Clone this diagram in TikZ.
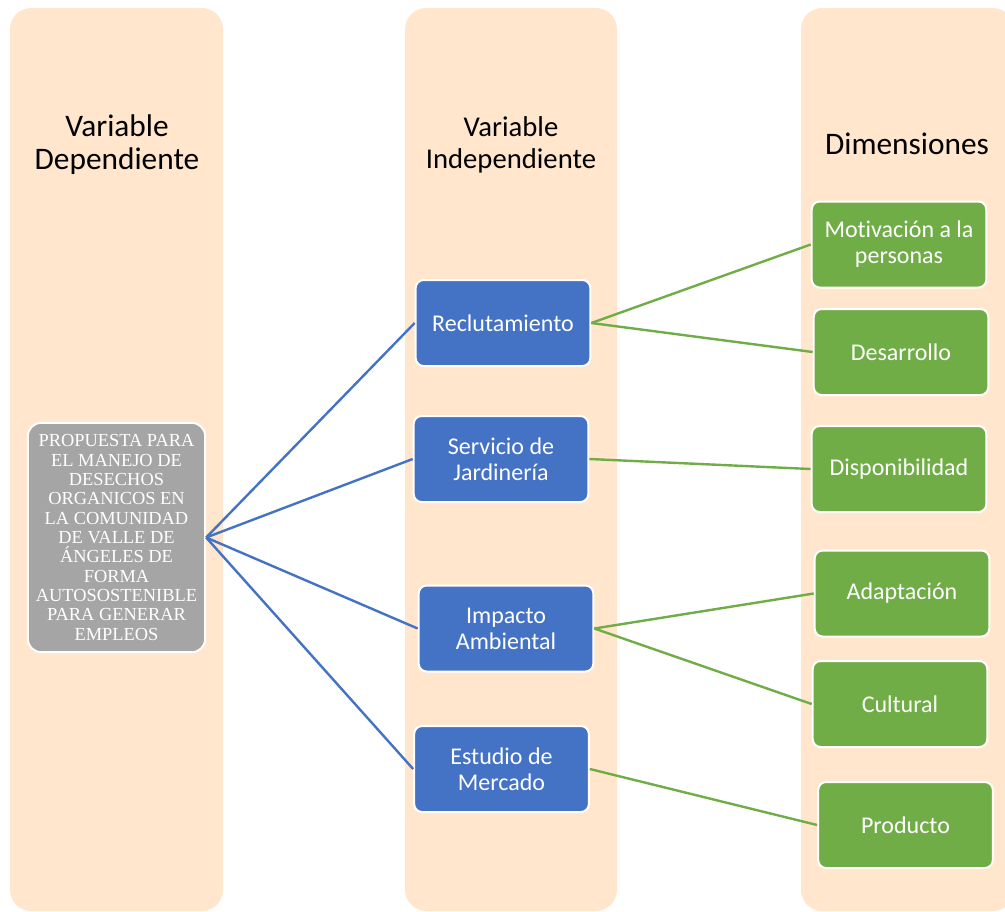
\documentclass[tikz,border=0pt]{standalone}
\usepackage{fontspec}
\setmainfont{Carlito}[Ligatures=NoCommon]
\newfontfamily\serifbox{Liberation Serif}
\usepackage{tikz}
\definecolor{colfondo}{HTML}{FFE6CC}
\definecolor{azul}{HTML}{4472C4}
\definecolor{verde}{HTML}{70AD47}
\definecolor{gris}{HTML}{A5A5A5}

\begin{document}
\begin{tikzpicture}[x=0.75pt, y=-0.75pt,
    columna/.style={fill=colfondo, rounded corners=16pt},
    caja/.style={draw=white, line width=1.5pt, rounded corners=6pt, text=white, align=center,
      minimum width=131pt, minimum height=64.5pt, inner sep=2pt, font=\fontsize{18}{19.5}\selectfont},
    indep/.style={caja, fill=azul},
    dimen/.style={caja, fill=verde},
    enlace/.style={line width=1.8pt}]
    \clip (0, 0) rectangle (1005, 911);
    \fill[white] (0, 0) rectangle (1005, 911);
    \fill[columna] (10, 8) rectangle (223, 911);
    \fill[columna] (405, 8) rectangle (617, 911);
    \fill[columna] (801, 8) rectangle (1014, 911);
    \node[align=center, font=\fontsize{23.5}{24.75}\selectfont] (tdep) at (117, 145) {Variable\\Dependiente};
    \node[align=center, font=\fontsize{21.5}{24}\selectfont] (tind) at (511, 145) {Variable\\Independiente};
    \node[font=\fontsize{23.5}{24}\selectfont] (tdim) at (907, 144) {Dimensiones};
    \node[caja, fill=gris, rounded corners=10pt, minimum width=133pt, minimum height=172pt,
      font=\serifbox\fontsize{13.8}{14.5}\selectfont] (prop) at (116.5, 537.5)
      {PROPUESTA PARA\\EL MANEJO DE\\DESECHOS\\ORGANICOS EN\\LA COMUNIDAD\\DE VALLE DE\\ÁNGELES DE\\FORMA\\AUTOSOSTENIBLE\\PARA GENERAR\\EMPLEOS};
    \node[indep] (rec) at (503, 323) {Reclutamiento};
    \node[indep] (ser) at (501, 459) {Servicio de\\Jardinería};
    \node[indep] (imp) at (506, 628.5) {Impacto\\Ambiental};
    \node[indep] (est) at (501.5, 769) {Estudio de\\Mercado};
    \node[dimen] (mot) at (899, 244.5) {Motivación a la\\personas};
    \node[dimen] (des) at (901, 352) {Desarrollo};
    \node[dimen] (dis) at (899, 469) {Disponibilidad};
    \node[dimen] (ada) at (902, 593.5) {Adaptación};
    \node[dimen] (cul) at (900, 704) {Cultural};
    \node[dimen] (pro) at (905.5, 825) {Producto};
    \foreach \b in {rec, ser, imp, est}
      \draw[enlace, azul] (prop.east) -- (\b.west);
    \draw[enlace, verde] (rec.east) -- (mot.west);
    \draw[enlace, verde] (rec.east) -- (des.west);
    \draw[enlace, verde] (ser.east) -- (dis.west);
    \draw[enlace, verde] (imp.east) -- (ada.west);
    \draw[enlace, verde] (imp.east) -- (cul.west);
    \draw[enlace, verde] (est.east) -- (pro.west);
\end{tikzpicture}
\end{document}
